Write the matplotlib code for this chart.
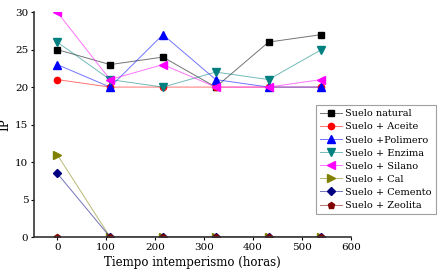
import matplotlib
matplotlib.use("Agg")
import matplotlib.pyplot as plt
from matplotlib.colors import to_rgba

horas = [0, 108, 216, 324, 432, 540]
series_names = ["Suelo natural", "Suelo + Aceite", "Suelo +Polimero", "Suelo + Enzima",
                "Suelo + Silano", "Suelo + Cal", "Suelo + Cemento", "Suelo + Zeolita"]
suelo_natural = [25, 23, 24, 20, 26, 27]
suelo_aceite = [21, 20, 20, 20, 20, 20]
suelo_polimero = [23, 20, 27, 21, 20, 20]
suelo_enzima = [26, 21, 20, 22, 21, 25]
suelo_silano = [30, 21, 23, 20, 20, 21]
suelo_cal = [11, 0, 0, 0, 0, 0]
suelo_cemento = [8.5, 0, 0, 0, 0, 0]
suelo_zeolita = [0, 0, 0, 0, 0, 0]
x_ticks = [0, 100, 200, 300, 400, 500, 600]
y_ticks = [0, 5, 10, 15, 20, 25, 30]

data = [suelo_natural, suelo_aceite, suelo_polimero, suelo_enzima,
        suelo_silano, suelo_cal, suelo_cemento, suelo_zeolita]
colors = ["#000000", "#ff0000", "#0000ff", "#008080", "#ff00ff", "#808000", "#000080", "#800000"]
markers = ["s", "o", "^", "v", "<", ">", "D", "p"]
msizes = [4.5, 4.5, 5.5, 5.5, 5.5, 5.5, 4, 5]

plt.rcParams['font.family'] = ['DejaVu Serif']
fig = plt.figure(figsize=(4.44, 2.75), dpi=100)
ax = fig.add_axes([0.076, 0.138, 0.714, 0.818])

for name, vals, c, m, ms in zip(series_names, data, colors, markers, msizes):
    ax.plot(horas, vals, color=to_rgba(c, 0.55), marker=m, markersize=ms, linewidth=0.7,
            label=name, markeredgecolor=c, markerfacecolor=c)

ax.set_xlim(-48, 600)
ax.set_ylim(0, 30)
ax.set_xticks(x_ticks)
ax.set_yticks(y_ticks)
ax.tick_params(labelsize=7.5, length=2, pad=2, direction='out')
for s in ['top', 'right']:
    ax.spines[s].set_visible(False)
for s in ['left', 'bottom']:
    ax.spines[s].set_linewidth(1.2)
    ax.spines[s].set_color('#333333')
ax.set_xlabel("Tiempo intemperismo (horas)", fontsize=8.5, labelpad=3)
ax.set_ylabel("IP", fontsize=8.5)
ax.yaxis.set_label_coords(-0.07, 0.5)

leg = fig.legend(loc='upper left', bbox_to_anchor=(316/444, 1 - 105/275), fontsize=7,
                 frameon=True, fancybox=False, edgecolor='#888888', handlelength=2.2,
                 borderpad=0.45, labelspacing=0.42, handletextpad=0.3, borderaxespad=0)
leg.get_frame().set_linewidth(0.8)

fig.savefig("out.png", dpi=100)
